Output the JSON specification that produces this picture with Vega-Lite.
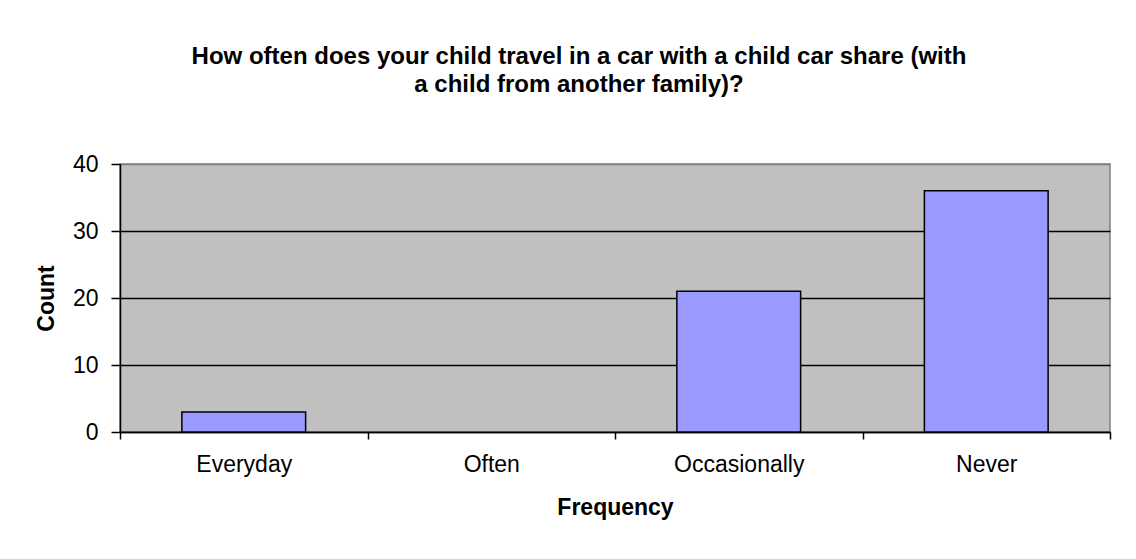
{
  "$schema": "https://vega.github.io/schema/vega-lite/v6.json",
  "autosize": "none",
  "width": 990,
  "height": 268,
  "padding": {"left": 120, "top": 164, "right": 26, "bottom": 127},
  "background": "white",
  "title": {
    "text": ["How often does your child travel in a car with a child car share (with", "a child from another family)?"],
    "font": "Liberation Sans",
    "fontSize": 24,
    "fontWeight": "bold",
    "color": "#000000",
    "anchor": "middle",
    "dx": -36,
    "offset": 56,
    "lineHeight": 27.6
  },
  "config": {
    "view": {"fill": "#c0c0c0", "stroke": "#808080", "strokeWidth": 1.5},
    "font": "Liberation Sans"
  },
  "data": {
    "values": [
      {"Frequency": "Everyday", "Count": 3},
      {"Frequency": "Often", "Count": 0},
      {"Frequency": "Occasionally", "Count": 21},
      {"Frequency": "Never", "Count": 36}
    ]
  },
  "mark": {"type": "bar", "fill": "#9999ff", "strokeWidth": 1.5, "width": {"band": 0.5}},
  "encoding": {
    "x": {
      "field": "Frequency",
      "type": "nominal",
      "sort": null,
      "scale": {"paddingInner": 0, "paddingOuter": 0},
      "axis": {
        "labelAngle": 0,
        "labelFont": "Liberation Sans",
        "labelFontSize": 23,
        "labelColor": "#000000",
        "labelPadding": 14,
        "domainColor": "#000000",
        "domainWidth": 1.5,
        "tickColor": "#000000",
        "tickWidth": 1.5,
        "tickSize": 7,
        "tickBand": "extent",
        "title": "Frequency",
        "titleFont": "Liberation Sans",
        "titleFontSize": 23,
        "titleFontWeight": "bold",
        "titleColor": "#000000",
        "titlePadding": 20
      }
    },
    "y": {
      "field": "Count",
      "type": "quantitative",
      "scale": {"domain": [0, 40], "nice": false},
      "axis": {
        "values": [0, 10, 20, 30, 40],
        "labelFont": "Liberation Sans",
        "labelFontSize": 23,
        "labelColor": "#000000",
        "labelPadding": 13,
        "domainColor": "#000000",
        "domainWidth": 1.5,
        "tickColor": "#000000",
        "tickWidth": 1.5,
        "tickSize": 9,
        "grid": true,
        "gridColor": {"condition": {"test": "datum.value == 40", "value": "#808080"}, "value": "#000000"},
        "gridWidth": 1.5,
        "title": "Count",
        "titleFont": "Liberation Sans",
        "titleFontSize": 23,
        "titleFontWeight": "bold",
        "titleColor": "#000000",
        "titlePadding": 14
      }
    },
    "stroke": {
      "condition": {"test": "datum.Count > 0", "value": "#000000"},
      "value": null
    }
  }
}
